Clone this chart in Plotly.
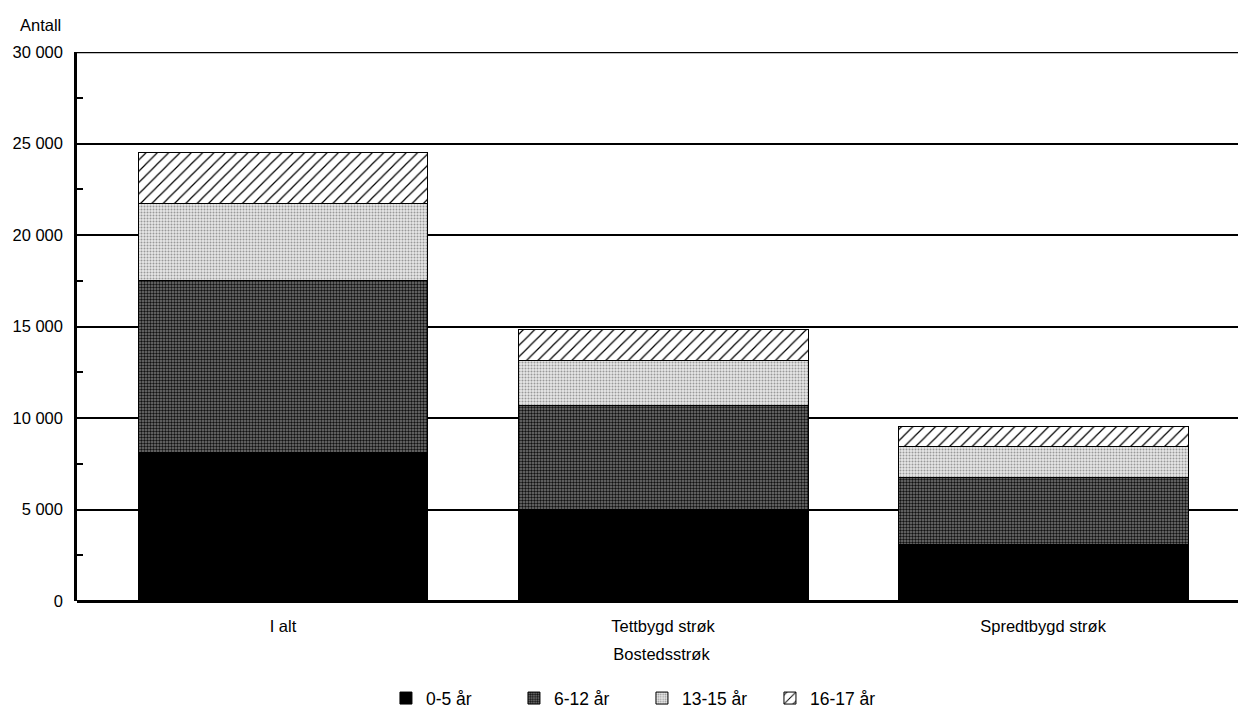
import plotly.graph_objects as go

categories = ["I alt", "Tettbygd strøk", "Spredtbygd strøk"]
series_names = ["0-5 år", "6-12 år", "13-15 år", "16-17 år"]
age_0_5 = [8100, 5000, 3100]
age_6_12 = [9400, 5700, 3650]
age_13_15 = [4200, 2450, 1700]
age_16_17 = [2800, 1700, 1100]
y_tickvals = [0, 5000, 10000, 15000, 20000, 25000, 30000]
y_ticktext = ["0", "5 000", "10 000", "15 000", "20 000", "25 000", "30 000"]
minor_tickvals = [2500, 7500, 12500, 17500, 22500, 27500]

FONT = "Liberation Sans, Arial, Helvetica, sans-serif"
FS = 16.5

styles = [
    dict(color="#000000", pattern=dict(shape="")),
    dict(color="#ffffff", pattern=dict(shape=".", fgcolor="#111111", bgcolor="#777777", size=3, solidity=0.5, fillmode="replace")),
    dict(color="#ffffff", pattern=dict(shape=".", fgcolor="#999999", bgcolor="#e8e8e8", size=3, solidity=0.35, fillmode="replace")),
    dict(color="#ffffff", pattern=dict(shape="/", fgcolor="#000000", bgcolor="#ffffff", size=8, solidity=0.15, fillmode="replace")),
]

fig = go.Figure()
for name, vals, st in zip(series_names, [age_0_5, age_6_12, age_13_15, age_16_17], styles):
    fig.add_trace(go.Bar(
        x=categories, y=vals, name=name, width=0.763,
        marker=dict(color=st["color"], pattern=st["pattern"], line=dict(color="#000000", width=1)),
    ))

fig.update_layout(
    barmode="stack",
    width=1238, height=704,
    paper_bgcolor="white", plot_bgcolor="white",
    margin=dict(l=69, r=0, t=44, b=111, autoexpand=False),
    font=dict(family=FONT, size=FS, color="#000000"),
    showlegend=True,
    legend=dict(orientation="h", x=0.2643, xanchor="left", y=-0.177, yanchor="middle",
                font=dict(size=17.5), traceorder="normal",
                entrywidth=83, entrywidthmode="pixels"),
    xaxis=dict(
        range=[-0.542, 2.534], showgrid=False, showline=False, ticks="", automargin=False,
        tickfont=dict(size=FS), ticklabelstandoff=13,
        title=dict(text="Bostedsstrøk", standoff=14, font=dict(size=FS)),
    ),
    yaxis=dict(
        range=[0, 30000], tickvals=y_tickvals, ticktext=y_ticktext, automargin=False,
        showgrid=True, gridcolor="#000000", gridwidth=1.5,
        showline=True, linecolor="#000000", linewidth=2.5,
        ticks="", tickfont=dict(size=FS), ticklabelstandoff=8,
        minor=dict(tickvals=minor_tickvals, ticks="inside", ticklen=6,
                   tickcolor="#000000", tickwidth=1.5, showgrid=False),
        zeroline=True, zerolinecolor="#000000", zerolinewidth=2.5,
    ),
    annotations=[dict(text="Antall", xref="paper", yref="paper", x=-0.0505, y=1.049,
                      xanchor="left", yanchor="middle", showarrow=False, font=dict(size=FS))],
    shapes=[dict(type="line", xref="paper", yref="y", x0=0, x1=1, y0=30000, y1=30000,
                 line=dict(color="#000000", width=2.5))],
)

fig.write_html("out.html")
